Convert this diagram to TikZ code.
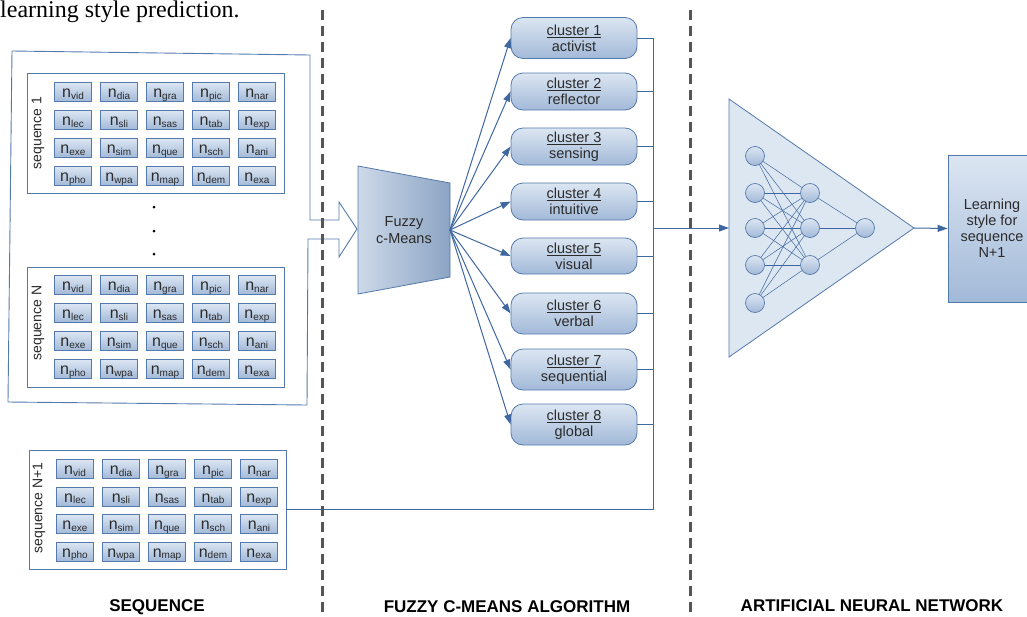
\documentclass[tikz,border=0pt]{standalone}
\usepackage{fontspec}
\setmainfont{Liberation Sans}
\newfontfamily\capfont{Liberation Serif}
\usetikzlibrary{arrows.meta}

\definecolor{edge}{HTML}{5479AC}
\definecolor{wireblue}{HTML}{3F68A0}
\definecolor{ink}{HTML}{2B2B2B}
\definecolor{lite}{HTML}{DCE6F2}
\definecolor{deep}{HTML}{A2B9D8}
\definecolor{divider}{HTML}{555555}
\definecolor{trapL}{HTML}{CDD9E8}
\definecolor{trapR}{HTML}{8CA4C4}
\definecolor{nnfill}{HTML}{DDE7F2}

% one attribute label: n with a subscript
\newcommand\nsub[1]{n\raisebox{-1.5pt}{\fontsize{10}{10}\selectfont #1}}
\newcommand\fsz[2]{\fontsize{#1}{#2}\selectfont}

% a 5x4 grid of attribute cells
\newcommand\cellgrid[4]{%
  \foreach \row [count=\r] in {{vid,dia,gra,pic,nar},{lec,sli,sas,tab,exp},{exe,sim,que,sch,ani},{pho,wpa,map,dem,exa}} {
    \foreach \lab [count=\c] in \row {
      \node[cell] (#1-\r-\c) at ({#2+46*(\c-1)}, {#3+#4*(\r-1)}) {\nsub{\lab}};
    }
  }%
}

\begin{document}
\begin{tikzpicture}[x=1pt,y=-1pt,
  cell/.style={draw=edge, line width=0.6pt, top color=lite, bottom color=deep,
    minimum width=37.5pt, minimum height=19pt, inner sep=0pt,
    text height=11.5pt, text depth=0.5pt, font=\fsz{16}{16}, text=ink},
  seqbox/.style={draw=edge, line width=0.8pt, fill=white, inner sep=0pt},
  seqlabel/.style={rotate=90, font=\fsz{14}{16}, text=ink, inner sep=0pt},
  cluster/.style={draw=edge, line width=0.8pt, rounded corners=12pt,
    top color=lite, bottom color=deep, minimum width=126pt, inner sep=2pt,
    align=center, font=\fsz{14.5}{16}, text=ink},
  wire/.style={draw=wireblue, line width=0.8pt},
  arr/.style={draw=wireblue, line width=1pt, -{Triangle[length=10pt,width=7pt]}},
  neuron/.style={circle, draw=edge, line width=0.7pt, top color=lite, bottom color=deep,
    minimum size=19pt, inner sep=0pt},
  link/.style={draw=wireblue, line width=0.5pt},
  heading/.style={font=\bfseries\fsz{17}{17}, text=black, inner sep=0pt},
  divide/.style={draw=divider, line width=2.2pt, dash pattern=on 10pt off 6pt}
]
\useasboundingbox (0,0) rectangle (1027,616);
\clip (0,0) rectangle (1027,616);

% caption line of the surrounding text
\node[anchor=base west, font=\capfont\fsz{24}{24}, inner sep=0pt] (caption) at (0,17) {learning style prediction.};

% outlined arrow collecting sequences 1..N
\coordinate (bigtip) at (357,229);
\draw[draw=edge, line width=0.9pt, line join=miter]
  (12,51) -- (310,55) -- (310,220) -- (339,220) -- (339,202) -- (bigtip)
  -- (339,257) -- (339,239) -- (308,239) -- (307,405) -- (8,402) -- cycle;

% sequence 1
\node[seqbox, minimum width=257pt, minimum height=120pt] (seq1) at (155.5,133) {};
\node[seqlabel] (seq1lab) at (38,133) {sequence 1};
\cellgrid{sA}{73}{92}{28}

% ellipsis
\fill (154,207) circle (1.5pt);
\fill (154,231) circle (1.5pt);
\fill (154,254) circle (1.5pt);

% sequence N
\node[seqbox, minimum width=257pt, minimum height=120pt] (seqN) at (155.5,327) {};
\node[seqlabel] (seqNlab) at (38,323) {sequence N};
\cellgrid{sB}{73}{285}{28}

% sequence N+1
\node[seqbox, minimum width=257pt, minimum height=119pt] (seqM) at (157.5,509.5) {};
\node[seqlabel] (seqMlab) at (39,508) {sequence N+1};
\cellgrid{sC}{75}{469}{27.5}

% fuzzy c-means block
\path[draw=edge, line width=0.8pt, left color=trapL, right color=trapR]
  (358,166) -- (450,183) -- (450,277) -- (358,294) -- cycle;
\node[align=center, font=\fsz{14.5}{16.5}, text=ink] (fcm) at (404,230) {Fuzzy\\c-Means};
\coordinate (fcmout) at (450,230);

% clusters
\foreach \i/\cy/\h/\txt in {1/38/41/activist, 2/91.5/37/reflector, 3/146.5/37/sensing,
    4/201.5/37/intuitive, 5/256/36/visual, 6/313.5/41/verbal,
    7/369.5/41/sequential, 8/424.5/41/global} {
  \node[cluster, minimum height=\h pt] (c\i) at (574,\cy) {\underline{cluster \i}\\\txt};
  \draw[arr] (fcmout) -- (c\i.west);
}

% collecting bus
\coordinate (busTop) at (653,38);
\coordinate (busBot) at (653,509.5);
\coordinate (busOut) at (653,228);
\foreach \i in {1,...,8} {
  \draw[wire] (c\i.east) -- (c\i.east -| busTop);
}
\draw[wire] (busTop) -- (busBot);
\draw[wire] (seqM.east) -- (busBot);

% neural network
\coordinate (nnIn) at (729,228);
\coordinate (nnOut) at (914,228);
\path[draw=edge, line width=0.8pt, fill=nnfill] (729,99) -- (nnOut) -- (729,357) -- cycle;
\draw[arr] (busOut) -- (nnIn);

\foreach \j/\y in {1/156,2/193,3/228,4/265,5/303}
  \node[neuron] (i\j) at (755,\y) {};
\foreach \j/\y in {1/193,2/228,3/265}
  \node[neuron] (h\j) at (810,\y) {};
\node[neuron] (o) at (865,228) {};
\foreach \a in {1,...,5}
  \foreach \b in {1,2,3}
    \draw[link] (i\a) -- (h\b);
\foreach \b in {1,2,3}
  \draw[link] (h\b) -- (o);

% prediction output
\node[draw=edge, line width=0.8pt, top color=lite, bottom color=deep,
  minimum width=88pt, minimum height=147pt, align=center, font=\fsz{14.5}{16}, text=ink]
  (out) at (992,228.5) {Learning\\style for\\sequence\\N+1};
\draw[arr] (nnOut) -- (out.west);

% section dividers
\draw[divide] (322.5,10) -- (322.5,620);
\draw[divide] (690.5,10) -- (690.5,620);

% section headings
\node[heading] (hSeq) at (157,607) {SEQUENCE};
\node[heading] (hFcm) at (507,607) {FUZZY C-MEANS ALGORITHM};
\node[heading] (hAnn) at (872,606) {ARTIFICIAL NEURAL NETWORK};
\end{tikzpicture}
\end{document}
